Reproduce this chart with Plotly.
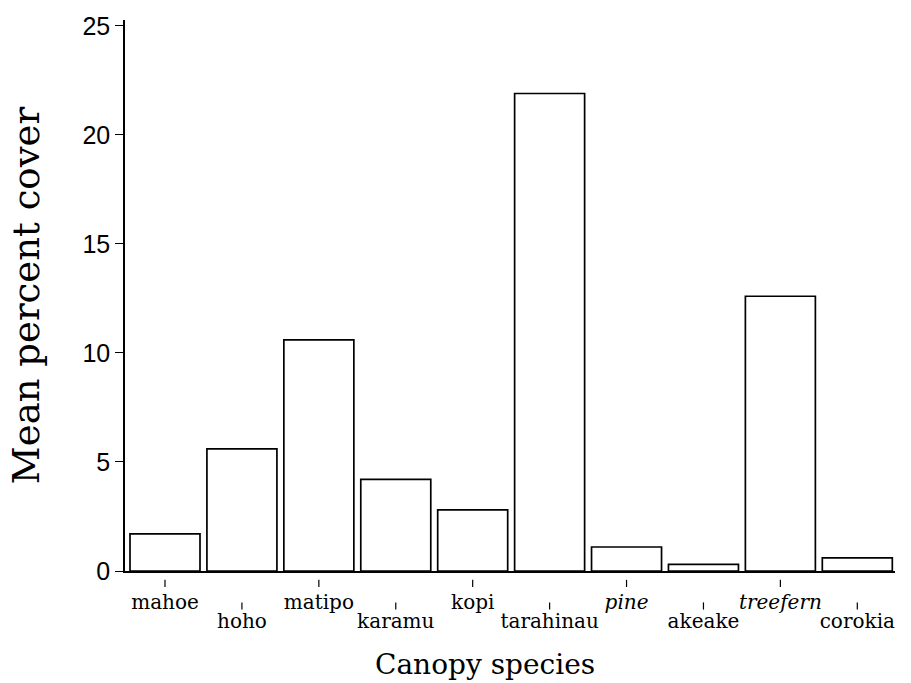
import plotly.graph_objects as go

species = ["mahoe", "hoho", "matipo", "karamu", "kopi", "tarahinau",
           "pine", "akeake", "treefern", "corokia"]
italic = ["pine", "treefern"]
cover = [1.7, 5.6, 10.6, 4.2, 2.8, 21.9, 1.1, 0.3, 12.6, 0.6]
y_ticks = [0, 5, 10, 15, 20, 25]

idx = list(range(len(species)))
labels = [f"<i>{s}</i>" if s in italic else s for s in species]
upper = [i for i in idx if i % 2 == 0]
lower = [i for i in idx if i % 2 == 1]

serif = "DejaVu Serif"
sans = "Liberation Sans"

fig = go.Figure()
fig.add_trace(go.Bar(
    x=idx, y=cover, width=0.91,
    marker=dict(color="white", line=dict(color="black", width=1.7)),
    showlegend=False, hoverinfo="skip",
))
# invisible trace to activate the second x axis
fig.add_trace(go.Scatter(x=[idx[0]], y=[0], xaxis="x2", mode="markers",
                         marker=dict(opacity=0), showlegend=False, hoverinfo="skip"))

xrange = [-0.52, 9.49]
fig.update_layout(
    width=911, height=683,
    margin=dict(l=125, r=16, t=18, b=112),
    plot_bgcolor="white", paper_bgcolor="white",
    xaxis=dict(
        range=xrange, showline=True, linecolor="black", linewidth=1.5,
        showgrid=False, zeroline=False, ticks="",
        tickvals=upper, ticktext=[labels[i] for i in upper],
        tickfont=dict(family=serif, size=20, color="black"),
        ticklabelstandoff=12,
    ),
    xaxis2=dict(
        range=xrange, overlaying="x", side="bottom", anchor="y",
        showline=False, showgrid=False, zeroline=False, ticks="",
        tickvals=lower, ticktext=[labels[i] for i in lower],
        tickfont=dict(family=serif, size=20, color="black"),
        ticklabelstandoff=36,
    ),
    yaxis=dict(
        range=[0, 25.27], showline=True, linecolor="black", linewidth=1.5,
        showgrid=False, zeroline=False, ticks="outside", ticklen=8,
        tickcolor="black", tickwidth=1.2,
        tickvals=y_ticks, ticktext=[str(v) for v in y_ticks],
        tickfont=dict(family=sans, size=25, color="black"),
        title=dict(text="Mean percent cover",
                   font=dict(family=serif, size=37, color="black"), standoff=31),
    ),
    annotations=[dict(
        text="Canopy species", xref="paper", yref="paper",
        x=0.4675, y=-0.170, xanchor="center", yanchor="middle", showarrow=False,
        font=dict(family=serif, size=28, color="black"),
    )],
)

# small detached tick marks above each category label
shapes = []
for i in idx:
    y0, y1 = (-0.016, -0.029) if i % 2 == 0 else (-0.057, -0.070)
    shapes.append(dict(type="line", xref="x", yref="paper", x0=i, x1=i,
                       y0=y0, y1=y1, line=dict(color="black", width=1.2)))
fig.update_layout(shapes=shapes)

fig.write_html(
    "out.html",
    config={"displayModeBar": False},
    post_script="document.body.style.margin='0';document.body.style.overflow='hidden';",
)
